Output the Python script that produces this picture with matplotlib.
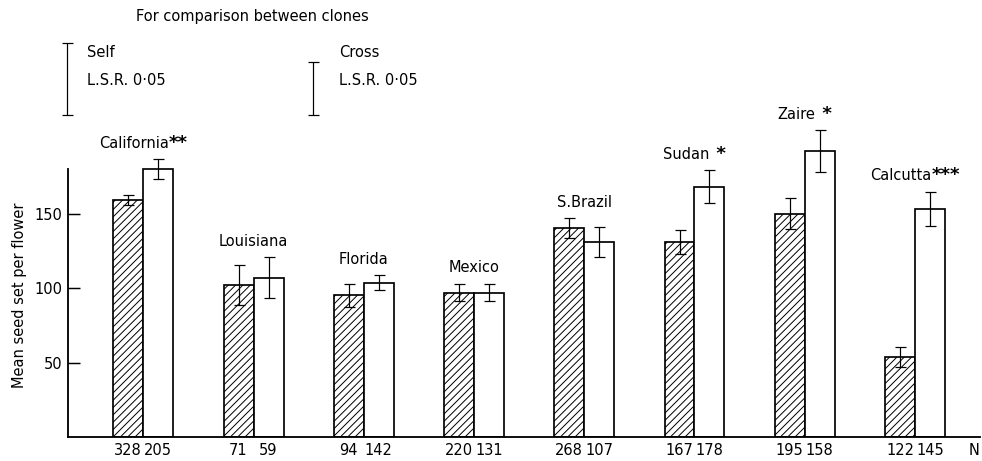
import matplotlib.pyplot as plt
from matplotlib.offsetbox import TextArea, HPacker, AnnotationBbox

# values (seed set per flower, self vs cross)
groups = ['California', 'Louisiana', 'Florida', 'Mexico', 'S.Brazil', 'Sudan', 'Zaire', 'Calcutta']
stars = ['**', '', '', '', '', ' *', ' *', '***']
self_mean = [159, 102, 95, 97, 140, 131, 150, 54]
self_err = [3.5, 13.5, 8, 5.5, 6.7, 8, 10.3, 6.7]
cross_mean = [180, 107, 103.5, 97, 131, 168, 192, 153]
cross_err = [6.5, 14, 5, 6, 10, 11, 14, 11.7]
self_n = [328, 71, 94, 220, 268, 167, 195, 122]
cross_n = [205, 59, 142, 131, 107, 178, 158, 145]
lsr_self = 48.5
lsr_cross = 36

plt.rcParams['font.family'] = 'DejaVu Sans'
plt.rcParams['hatch.linewidth'] = 0.8

fig = plt.figure(figsize=(11.16, 5.24), dpi=88)
ax = fig.add_axes([0.0689, 0.052, 0.929, 0.937])

w = 0.272
xs = [i - w / 2 for i in range(len(groups))]
xc = [i + w / 2 for i in range(len(groups))]
ekw = dict(elinewidth=1, capthick=1, ecolor='black')
ax.bar(xs, self_mean, w, color='white', edgecolor='black', hatch='////', linewidth=1.4,
       yerr=self_err, capsize=4.5, error_kw=ekw)
ax.bar(xc, cross_mean, w, color='white', edgecolor='black', linewidth=1.4,
       yerr=cross_err, capsize=4.5, error_kw=ekw)

# group names with significance stars
for i in range(len(groups)):
    top = max(self_mean[i] + self_err[i], cross_mean[i] + cross_err[i])
    box = HPacker(children=[TextArea(groups[i], textprops=dict(fontsize=12)),
                            TextArea(stars[i], textprops=dict(fontsize=15, fontweight='bold'))],
                  pad=0, sep=0, align='baseline')
    ab = AnnotationBbox(box, (i, top), xybox=(0, 6), boxcoords='offset points',
                        box_alignment=(0.5, 0), frameon=False, pad=0)
    ax.add_artist(ab)

# LSR bars at top
eb = ax.errorbar([-0.695, 1.542], [216 + lsr_self / 2, 216 + lsr_cross / 2],
                 yerr=[lsr_self / 2, lsr_cross / 2], fmt='none', ecolor='black',
                 capsize=4.5, elinewidth=1, capthick=1)
for part in eb.lines:
    if part is None:
        continue
    if isinstance(part, tuple):
        for p in part:
            p.set_clip_on(False)
    else:
        part.set_clip_on(False)

ax.text(-0.066, 282.6, 'For comparison between clones', fontsize=12, va='center')
ax.text(-0.51, 258, 'Self', fontsize=12, va='center')
ax.text(-0.51, 239.6, 'L.S.R. 0·05', fontsize=12, va='center')
ax.text(1.775, 258, 'Cross', fontsize=12, va='center')
ax.text(1.775, 239.6, 'L.S.R. 0·05', fontsize=12, va='center')

ax.set_xlim(-0.686, 7.59)
ax.set_ylim(0, 290)
ax.set_yticks([50, 100, 150])
ax.tick_params(axis='y', direction='in', length=10, width=1.2, pad=4, labelsize=12)

ticks = xs + xc + [7.535]
labels = [str(n) for n in self_n] + [str(n) for n in cross_n] + ['N']
ax.set_xticks(ticks, labels)
ax.tick_params(axis='x', length=0, pad=5, labelsize=12)

ax.spines['top'].set_visible(False)
ax.spines['right'].set_visible(False)
ax.spines['left'].set_bounds(0, 180)
ax.spines['left'].set_linewidth(1.5)
ax.spines['bottom'].set_linewidth(1.5)

ax.set_ylabel('Mean seed set per flower', fontsize=12)
ax.yaxis.set_label_coords(-0.045, 0.329)

fig.savefig('out.png', dpi=88)
